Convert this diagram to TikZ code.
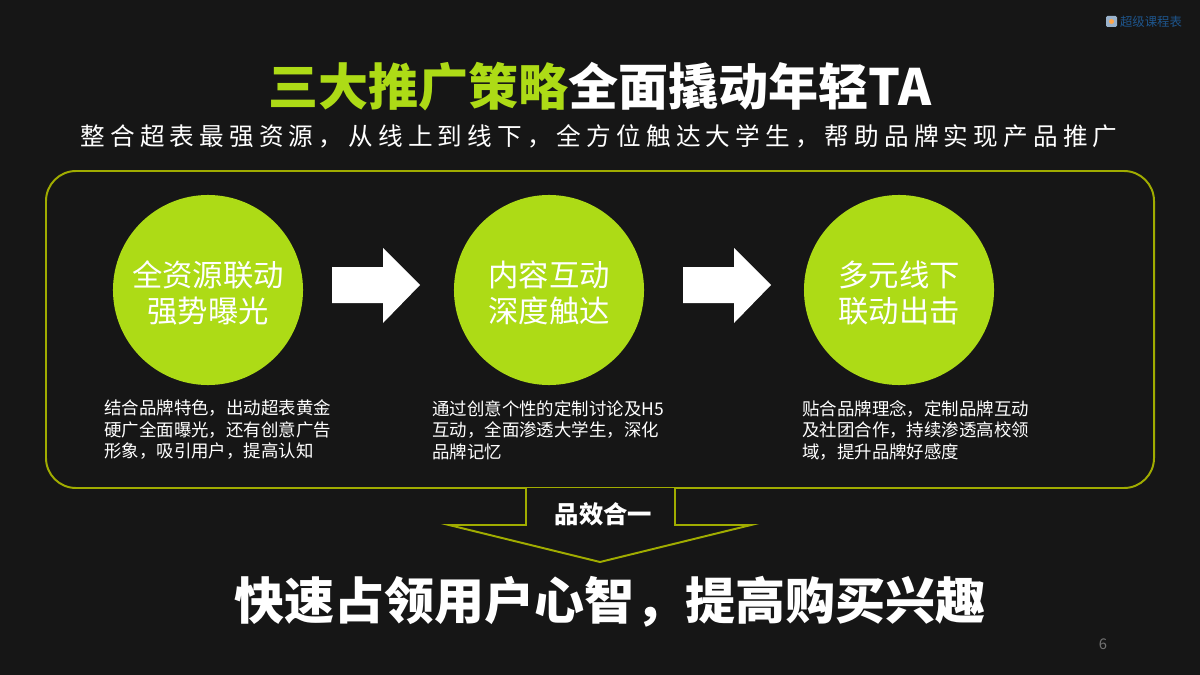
\documentclass[tikz,border=0pt]{standalone}
\usepackage{fontspec}
\usepackage{xcolor}
\setmainfont{Noto Sans CJK SC}
\newfontfamily\spaced[LetterSpace=21]{Noto Sans CJK SC}
\definecolor{backg}{RGB}{22, 22, 22}
\definecolor{lime}{RGB}{173, 219, 22}
\definecolor{olive}{RGB}{160, 172, 0}
\definecolor{logoblue}{RGB}{30, 85, 140}
\usepackage{tikz}
\tikzstyle{frame} = [draw=olive,line width=1.4pt]
\tikzstyle{disc} = [circle,fill=lime,minimum size=4.75cm,inner sep=0pt]
\tikzstyle{disctext} = [inner sep=0pt,text=white,align=center,font=\fontsize{21.6pt}{25.6pt}\selectfont]
\tikzstyle{desc} = [anchor=west,inner sep=0pt,text=white,align=left,font=\fontsize{12.4pt}{15.3pt}\selectfont]
\tikzstyle{big} = [inner sep=0pt,text=white,font=\fontsize{35.6pt}{40pt}\selectfont\bfseries]
\begin{document}
\begin{tikzpicture}[x=0.025cm,y=-0.025cm]
    \fill[backg] (0,0) rectangle (1200,675);
    \useasboundingbox (0,0) rectangle (1200,675);
    % logo
    \fill[logoblue!45!white,rounded corners=1pt] (1106,16) rectangle (1117,27);
    \fill[orange!70!white] (1111.5,21.5) circle (2.5);
    \node[inner sep=0pt,text=logoblue,font=\fontsize{8.8pt}{10pt}\selectfont] (logo) at (1151,21.5) {超级课程表};
    % title
    \node[big] (title) at (600,87) {\textcolor{lime}{三大推广策略}全面撬动年轻TA};
    \node[inner sep=0pt,text=white,font=\fontsize{17.5pt}{20pt}\selectfont\spaced] (sub) at (599,136)
        {整合超表最强资源，从线上到线下，全方位触达大学生，帮助品牌实现产品推广};
    \draw[frame,rounded corners=0.75cm] (46,171) rectangle (1154,488);
    % three steps
    \node[disc] (res) at (208,290) {};
    \node[disc] (cont) at (549,290) {};
    \node[disc] (off) at (899,290) {};
    \node[disctext] (restext) at (208,293) {全资源联动\\强势曝光};
    \node[disctext] (conttext) at (549,293) {内容互动\\深度触达};
    \node[disctext] (offtext) at (899,293) {多元线下\\联动出击};
    \foreach \x in {332,683} {
        \fill[white] (\x,267) -- ++(51,0) -- ++(0,-19) -- ++(37,37) -- ++(-37,38) -- ++(0,-20) -- ++(-51,0) -- cycle;
    }
    \node[desc] (resd) at (104,430) {结合品牌特色，出动超表黄金\\硬广全面曝光，还有创意广告\\形象，吸引用户，提高认知};
    \node[desc] (contd) at (432,430) {通过创意个性的定制讨论及H5\\互动，全面渗透大学生，深化\\品牌记忆};
    \node[desc] (offd) at (802,430) {贴合品牌理念，定制品牌互动\\及社团合作，持续渗透高校领\\域，提升品牌好感度};
    % down arrow
    \draw[frame,line join=miter,fill=backg] (526,488) -- (526,525) -- (449,525) -- (600,562) -- (751,525) -- (675,525) -- (675,488);
    \node[inner sep=0pt,text=white,font=\fontsize{17.3pt}{20pt}\selectfont\bfseries] (unity) at (603.5,514) {品效合一};
    \node[big] (result) at (610,602) {快速占领用户心智，提高购买兴趣};
    \node[inner sep=0pt,text=black!55,font=\fontsize{10.5pt}{12pt}\selectfont] (page) at (1103,644) {6};
\end{tikzpicture}
\end{document}
